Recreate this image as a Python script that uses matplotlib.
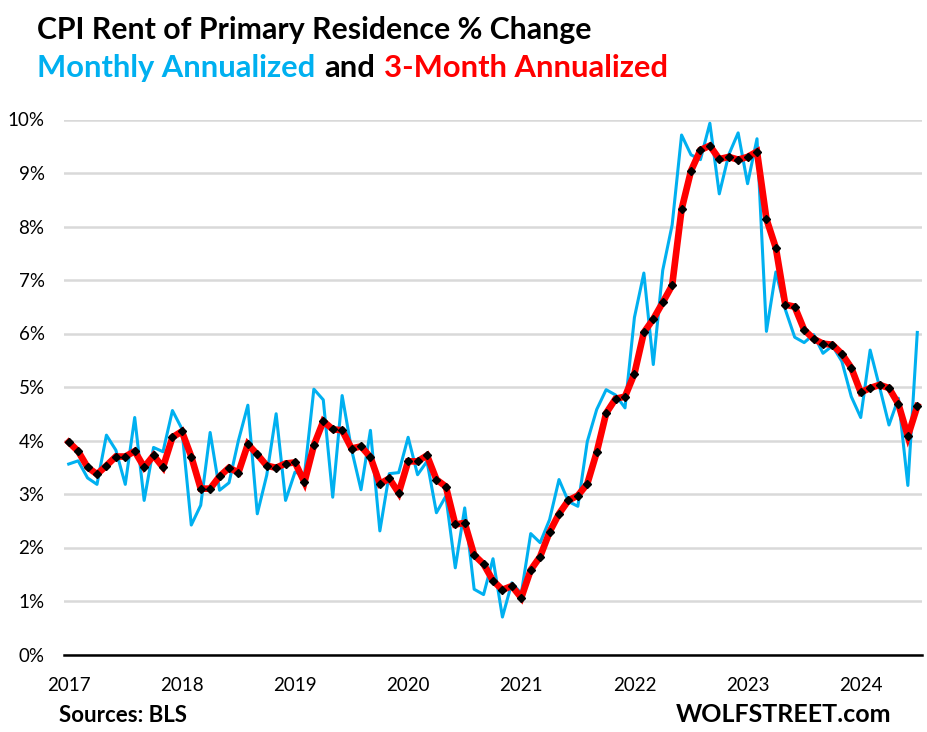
import matplotlib
matplotlib.use('Agg')
import matplotlib.pyplot as plt
from matplotlib.ticker import FuncFormatter, MultipleLocator

plt.rcParams['font.family'] = ['Lato', 'DejaVu Sans']

W, H = 928, 732

# one value per month, Jan 2017 to Jul 2024
monthly = [3.56, 3.62, 3.30, 3.18, 4.10, 3.82, 3.18, 4.43, 2.88, 3.87, 3.79, 4.56,
           4.22, 2.42, 2.79, 4.15, 3.07, 3.21, 4.00, 4.66, 2.63, 3.35, 4.50, 2.88,
           3.41, 3.35, 4.96, 4.76, 2.94, 4.84, 3.83, 3.08, 4.19, 2.31, 3.38, 3.40,
           4.06, 3.36, 3.61, 2.65, 2.96, 1.62, 2.74, 1.22, 1.12, 1.79, 0.70, 1.34,
           1.14, 2.26, 2.09, 2.52, 3.27, 2.86, 2.77, 3.98, 4.58, 4.95, 4.85, 4.61,
           6.30, 7.13, 5.42, 7.18, 8.03, 9.71, 9.34, 9.25, 9.93, 8.61, 9.34, 9.75,
           8.80, 9.64, 6.04, 7.15, 6.45, 5.93, 5.83, 5.98, 5.63, 5.77, 5.48, 4.82,
           4.43, 5.69, 5.00, 4.29, 4.79, 3.16, 6.02]

three_month = [3.97, 3.80, 3.50, 3.37, 3.53, 3.70, 3.70, 3.80, 3.50, 3.72, 3.50, 4.06,
               4.17, 3.70, 3.10, 3.10, 3.33, 3.49, 3.40, 3.93, 3.74, 3.53, 3.49, 3.57,
               3.59, 3.22, 3.91, 4.36, 4.21, 4.19, 3.85, 3.89, 3.69, 3.19, 3.29, 3.02,
               3.61, 3.61, 3.72, 3.27, 3.14, 2.43, 2.46, 1.86, 1.69, 1.38, 1.21, 1.28,
               1.06, 1.58, 1.83, 2.29, 2.63, 2.88, 2.97, 3.19, 3.78, 4.51, 4.78, 4.82,
               5.25, 6.02, 6.27, 6.58, 6.90, 8.32, 9.04, 9.43, 9.51, 9.26, 9.30, 9.25,
               9.30, 9.40, 8.14, 7.60, 6.54, 6.50, 6.07, 5.90, 5.81, 5.79, 5.62, 5.36,
               4.90, 4.98, 5.04, 4.98, 4.68, 4.08, 4.64]

years = ['2017', '2018', '2019', '2020', '2021', '2022', '2023', '2024']
months = list(range(len(monthly)))

fig = plt.figure(figsize=(W / 100, H / 100), dpi=100)
ax = fig.add_axes([64 / W, 1 - 654.5 / H, 858 / W, 535 / H])

ax.plot(months, monthly, color='#00b0f0', linewidth=2.2, zorder=3)
ax.plot(months, three_month, color='#ff0000', linewidth=4.8, zorder=4,
        solid_joinstyle='miter')
ax.plot(months, three_month, linestyle='none', marker='D', markersize=4.5,
        color='black', zorder=5)

ax.set_xlim(-0.5, 90.5)
ax.set_ylim(0, 10)
ax.yaxis.set_major_locator(MultipleLocator(1))
ax.yaxis.set_major_formatter(FuncFormatter(lambda v, pos: f'{v:.0f}%'))
ax.set_xticks(range(0, 12 * len(years), 12))
ax.set_xticklabels(years)
ax.grid(axis='y', color='#d9d9d9', linewidth=1.8, zorder=1)
ax.set_axisbelow(True)
ax.tick_params(axis='y', length=0, pad=14, labelsize=13.5)
ax.tick_params(axis='x', length=0, pad=16, labelsize=13.5)
for name in ['top', 'left', 'right']:
    ax.spines[name].set_visible(False)
ax.spines['bottom'].set_linewidth(1.8)
ax.spines['bottom'].set_color('black')


def px_text(x, y, s, **kw):
    return fig.text(x / W, 1 - y / H, s, va='center', fontweight='bold', **kw)


px_text(37, 30, 'CPI Rent of Primary Residence % Change', color='black', fontsize=21.8)

# second title line has three colours, put pieces one after the other
fig.canvas.draw()
renderer = fig.canvas.get_renderer()
x = 37
for piece, col in [('Monthly Annualized', '#00b0f0'), (' and ', 'black'),
                   ('3-Month Annualized', '#ff0000')]:
    t = px_text(x, 68, piece.strip(), color=col, fontsize=22.2)
    if piece.startswith(' '):
        t.set_x((x + 9) / W)
        x += 9
    x += t.get_window_extent(renderer).width
    if piece.endswith(' '):
        x += 9

px_text(59, 716, 'Sources: BLS', color='black', fontsize=16)
px_text(676, 714, 'WOLFSTREET.com', color='black', fontsize=18)

fig.savefig('out.png', dpi=100)
